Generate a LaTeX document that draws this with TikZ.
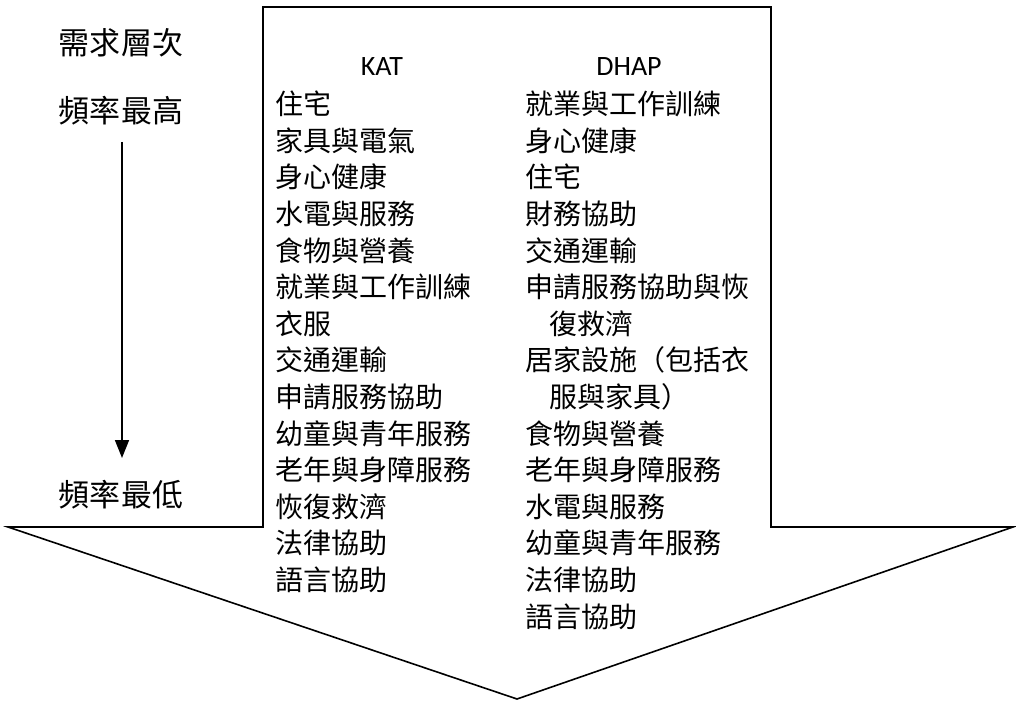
\documentclass[tikz,border=0pt]{standalone}
\usepackage{fontspec}
\newfontfamily\cjk{Noto Sans CJK TC}
\newfontfamily\latinhead{Carlito}
\usetikzlibrary{arrows.meta}
\tikzset{
  bigarrow/.style={draw=black, line width=1.6bp, line join=miter},
  item/.style={anchor=west, inner sep=0pt, font=\cjk\fontsize{28bp}{30bp}\selectfont},
  side/.style={inner sep=0pt, font=\cjk\fontsize{31bp}{33bp}\selectfont},
  head/.style={anchor=base, inner sep=0pt, font=\latinhead\fontsize{28bp}{30bp}\selectfont},
  flow/.style={line width=1.6bp, -{Triangle[width=14bp,length=18bp]}}
}
\begin{document}
\begin{tikzpicture}[x=1bp,y=-1bp]
\useasboundingbox (0,0) rectangle (1016,702);
% big down arrow
\coordinate (tl) at (263,7);
\coordinate (tr) at (771,7);
\coordinate (sr) at (771,527);
\coordinate (er) at (1013,527);
\coordinate (tip) at (517,699);
\coordinate (el) at (8,527);
\coordinate (sl) at (263,527);
\draw[bigarrow] (tl) -- (tr) -- (sr) -- (er) -- (tip) -- (el) -- (sl) -- cycle;
% left labels
\node[side] (need) at (121,43) {需求層次};
\node[side] (high) at (121,111) {頻率最高};
\node[side] (low) at (121,495) {頻率最低};
\coordinate (astart) at (122,142);
\coordinate (aend) at (122,458);
\draw[flow] (astart) -- (aend);
% headers
\node[head] (kat) at (382,76) {KAT};
\node[head] (dhap) at (629,76) {DHAP};
% KAT column
\foreach \t [count=\i from 0] in {住宅,家具與電氣,身心健康,水電與服務,食物與營養,就業與工作訓練,衣服,交通運輸,申請服務協助,幼童與青年服務,老年與身障服務,恢復救濟,法律協助,語言協助}{
  \node[item] (k\i) at (275,{104+36.6*\i}) {\t};
}
% DHAP column
\node[item] (d0) at (525,104) {就業與工作訓練};
\node[item] (d1) at (525,{104+36.6*1}) {身心健康};
\node[item] (d2) at (525,{104+36.6*2}) {住宅};
\node[item] (d3) at (525,{104+36.6*3}) {財務協助};
\node[item] (d4) at (525,{104+36.6*4}) {交通運輸};
\node[item] (d5) at (525,{104+36.6*5}) {申請服務協助與恢};
\node[item] (d6) at (549,{104+36.6*6}) {復救濟};
\node[item] (d7) at (525,{104+36.6*7}) {居家設施（包括衣};
\node[item] (d8) at (549,{104+36.6*8}) {服與家具）};
\node[item] (d9) at (525,{104+36.6*9}) {食物與營養};
\node[item] (d10) at (525,{104+36.6*10}) {老年與身障服務};
\node[item] (d11) at (525,{104+36.6*11}) {水電與服務};
\node[item] (d12) at (525,{104+36.6*12}) {幼童與青年服務};
\node[item] (d13) at (525,{104+36.6*13}) {法律協助};
\node[item] (d14) at (525,{104+36.6*14}) {語言協助};
\end{tikzpicture}
\end{document}
